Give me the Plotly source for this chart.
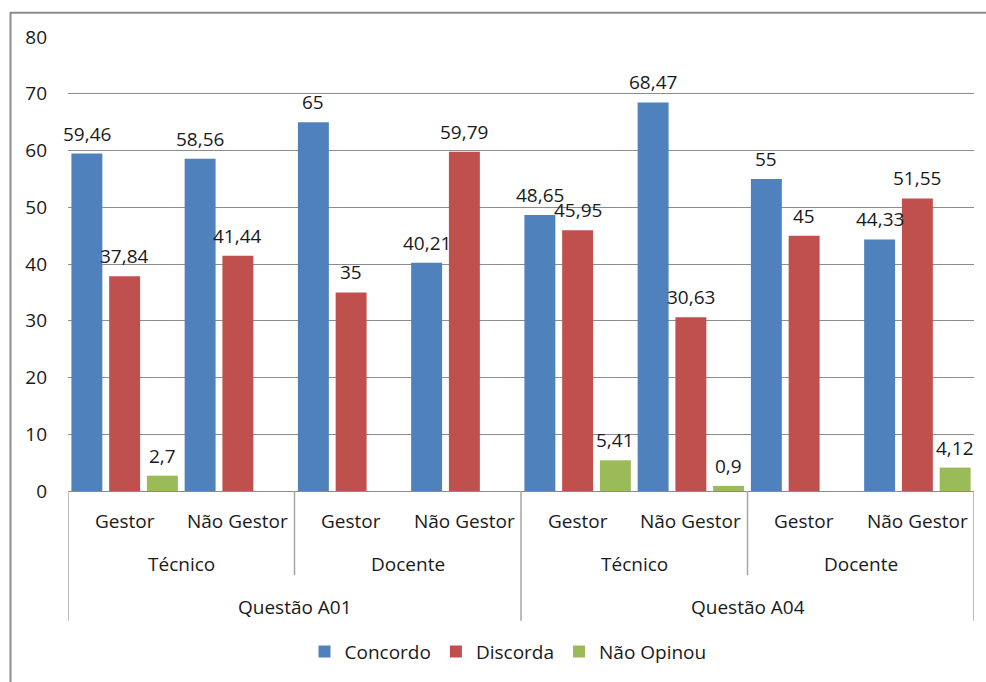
import plotly.graph_objects as go

# Category hierarchy (innermost first)
cargos = ["Gestor", "Não Gestor", "Gestor", "Não Gestor",
          "Gestor", "Não Gestor", "Gestor", "Não Gestor"]
segmentos = ["Técnico", "Docente", "Técnico", "Docente"]
questoes = ["Questão A01", "Questão A04"]

# Series values (%)
concordo = [59.46, 58.56, 65, 40.21, 48.65, 68.47, 55, 44.33]
discorda = [37.84, 41.44, 35, 59.79, 45.95, 30.63, 45, 51.55]
nao_opinou = [2.7, None, None, None, 5.41, 0.9, None, 4.12]

series = [
    ("Concordo", concordo, "#4F81BD"),
    ("Discorda", discorda, "#C0504D"),
    ("Não Opinou", nao_opinou, "#9BBB59"),
]

FONT = "Open Sans"
FS = 19
TXT = "#1a1a1a"


def fmt(v):
    return f"{v:g}".replace(".", ",")


x = list(range(len(cargos)))
n_series = len(series)
fig = go.Figure()
annotations = []
for t, (name, vals, color) in enumerate(series):
    fig.add_trace(go.Bar(
        x=x, y=vals, name=name,
        marker=dict(color=color, line=dict(width=0)),
    ))
    # value labels centred over each bar of the group
    offset = (t - (n_series - 1) / 2) / n_series
    for i, v in enumerate(vals):
        if v is None:
            continue
        annotations.append(dict(
            x=i + offset, y=v, xref="x", yref="y", text=fmt(v),
            showarrow=False, yanchor="bottom", yshift=5,
            font=dict(family=FONT, size=FS, color=TXT)))

# Plot area geometry in pixels (used to place the category rows)
H_PLOT = 458.0


def py(px_below):
    # paper y for a given number of pixels below the x axis
    return -px_below / H_PLOT


shapes = []

# Level 1: cargo labels
for i, c in enumerate(cargos):
    annotations.append(dict(x=i, y=py(30), xref="x", yref="paper", text=c,
                            showarrow=False, yanchor="middle",
                            font=dict(family=FONT, size=FS, color=TXT)))
# Level 2: segmento labels
for j, s in enumerate(segmentos):
    annotations.append(dict(x=2 * j + 0.5, y=py(74), xref="x", yref="paper", text=s,
                            showarrow=False, yanchor="middle",
                            font=dict(family=FONT, size=FS, color=TXT)))
# Level 3: questão labels
for k, q in enumerate(questoes):
    annotations.append(dict(x=4 * k + 1.5, y=py(117), xref="x", yref="paper", text=q,
                            showarrow=False, yanchor="middle",
                            font=dict(family=FONT, size=FS, color=TXT)))

# Divider lines between category groups
for b in [-0.5, 3.5, 7.5]:
    shapes.append(dict(type="line", xref="x", yref="paper", x0=b, x1=b,
                       y0=0, y1=py(131), line=dict(color="#A6A6A6", width=1.5)))
for b in [1.5, 5.5]:
    shapes.append(dict(type="line", xref="x", yref="paper", x0=b, x1=b,
                       y0=0, y1=py(85), line=dict(color="#A6A6A6", width=1.5)))

# Chart outer frame (top and left edges)
shapes.append(dict(type="line", xref="paper", yref="paper",
                   x0=-58 / 906, x1=1.02, y0=1 + 24.5 / H_PLOT, y1=1 + 24.5 / H_PLOT,
                   line=dict(color="#8C8C8C", width=2)))
shapes.append(dict(type="line", xref="paper", yref="paper",
                   x0=-57.5 / 906, x1=-57.5 / 906, y0=1 + 25 / H_PLOT, y1=py(200),
                   line=dict(color="#8C8C8C", width=2)))

fig.update_layout(
    width=986, height=682,
    margin=dict(l=68, r=12, t=37, b=187),
    paper_bgcolor="white", plot_bgcolor="white",
    barmode="group", bargap=0.0, bargroupgap=0.18,
    font=dict(family=FONT, size=FS, color=TXT),
    showlegend=True,
    legend=dict(orientation="h", x=440 / 906, xanchor="center",
                y=py(162), yanchor="middle",
                font=dict(family=FONT, size=FS, color=TXT),
                itemwidth=30, traceorder="normal"),
    xaxis=dict(range=[-0.5, 7.5], showticklabels=False, showgrid=False,
               zeroline=False, showline=False, ticks=""),
    yaxis=dict(range=[0, 80], dtick=10, showgrid=True, gridcolor="#8C8C8C",
               gridwidth=1, zeroline=True, zerolinecolor="#8C8C8C", zerolinewidth=1,
               showline=False, ticks="", ticklabelstandoff=20,
               tickfont=dict(family=FONT, size=FS, color=TXT)),
    shapes=shapes,
    annotations=annotations,
)

fig.write_html("out.html")
